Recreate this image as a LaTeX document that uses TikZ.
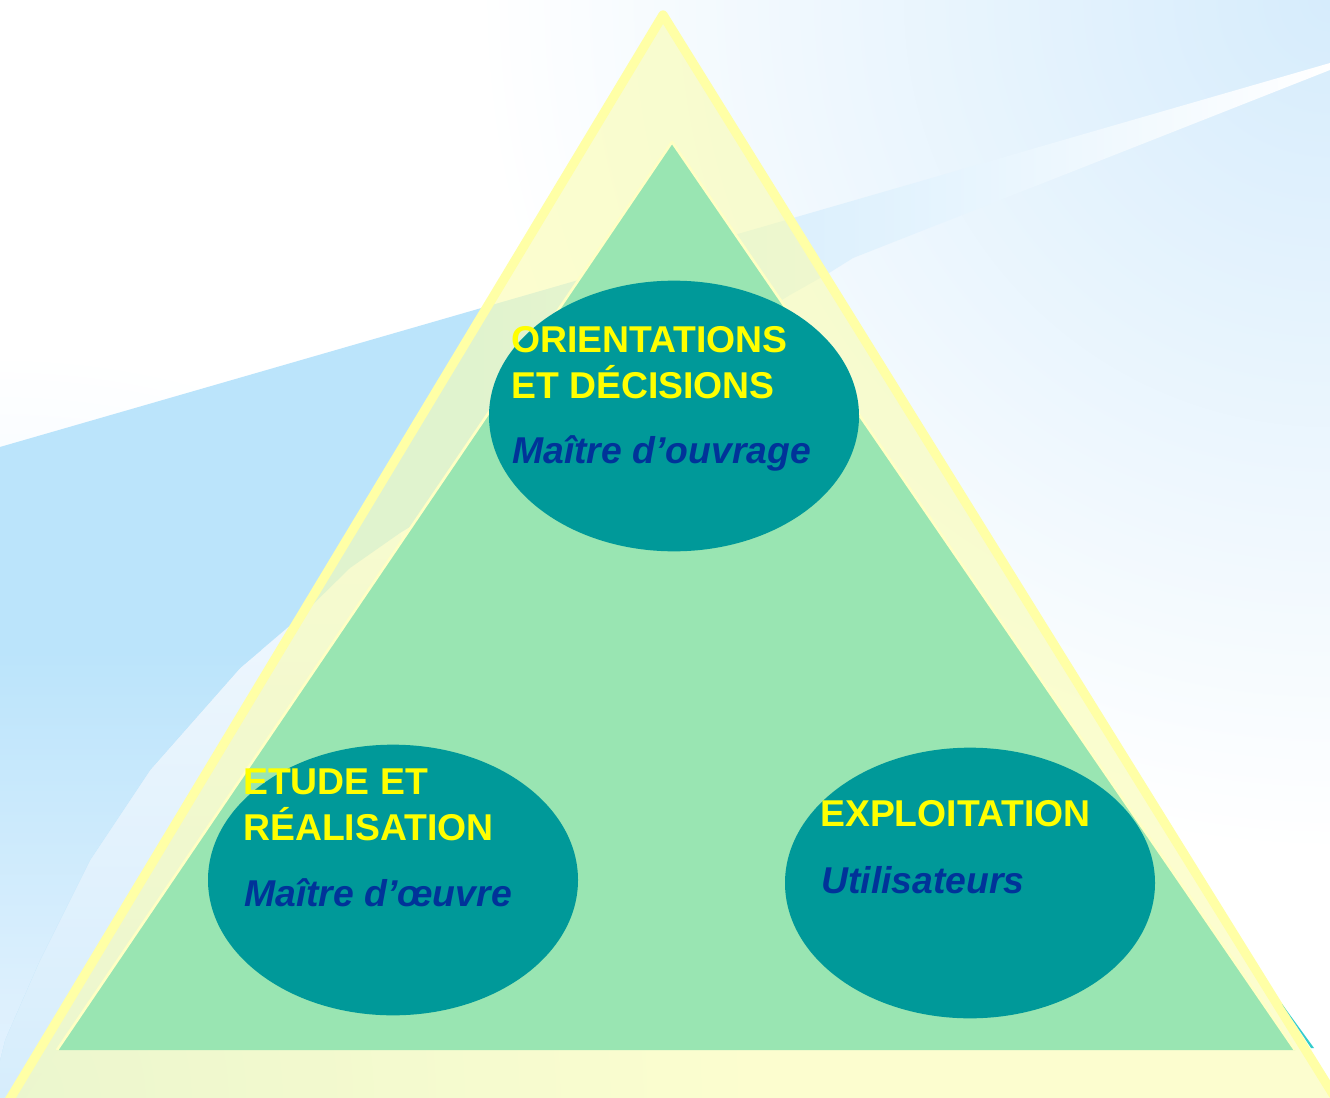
\documentclass[tikz,border=0pt]{standalone}
\usepackage{fontspec}
\setmainfont{Liberation Sans}
\usetikzlibrary{shapes.geometric}
\definecolor{bgtr}{HTML}{D6ECFC}
\definecolor{bgbl}{HTML}{D6EDFC}
\definecolor{bandblue}{HTML}{BBE4FB}
\definecolor{bandmid}{HTML}{DAEFFD}
\definecolor{bandlow}{HTML}{E6F3FE}
\definecolor{streaktop}{HTML}{F2F8FE}
\definecolor{streakbot}{HTML}{D6EDFC}
\definecolor{yedge}{HTML}{FFFFA6}
\definecolor{yfill}{HTML}{FAFDB0}
\definecolor{gtri}{HTML}{99E5B2}
\definecolor{gedge}{HTML}{FFFFC4}
\definecolor{ellteal}{HTML}{009999}
\definecolor{ttlyellow}{HTML}{FFFF00}
\definecolor{ttlblue}{HTML}{003399}
\definecolor{sliver}{HTML}{33CCCC}
\pgfdeclarehorizontalshading{bandsh}{100bp}{color(0bp)=(bandblue); color(43bp)=(bandblue); color(54bp)=(bandmid); color(75bp)=(white); color(100bp)=(white)}
\begin{document}
\begin{tikzpicture}[x=0.75pt,y=-0.75pt,
  ell/.style={ellipse, fill=ellteal, inner sep=0pt, minimum width=277.5pt, minimum height=203pt},
  ttl/.style={anchor=base west, inner sep=0pt, text=ttlyellow, font=\fontsize{28}{33}\selectfont\bfseries},
  role/.style={anchor=base west, inner sep=0pt, text=ttlblue, font=\fontsize{28}{33}\selectfont\bfseries\itshape}]
\useasboundingbox (0,0) rectangle (1330,1098);
\begin{scope}
\clip (0,0) rectangle (1330,1098);
% background gradient
\fill[white] (0,0) rectangle (1330,1098);
\shade[inner color=bgtr, outer color=white] (1330,0) circle (640pt);
\shade[inner color=bgbl, outer color=white] (0,1098) circle (560pt);
% light streak below the band, left of the pyramid
\shade[top color=streaktop, bottom color=streakbot]
  (400,533) -- (350,568) -- (300,617) -- (240,668) -- (150,770) -- (90,860) -- (40,960) -- (5,1040) -- (0,1060)
  -- (0,1098) -- (25,1098) -- (402,540) -- cycle;
% blue band
\begin{scope}
\clip (0,447) -- (1330,63) -- (1330,70) -- (853,258) -- (829,273) -- (790,295) -- (400,533) -- (350,568) -- (300,617)
  -- (240,668) -- (150,770) -- (90,860) -- (40,960) -- (5,1040) -- (0,1060) -- cycle;
\shade[shading=bandsh] (0,0) rectangle (1330,1098);
\shade[top color=bandblue, bottom color=bandlow] (0,650) rectangle (520,1098);
\end{scope}
% outer pyramid
\path[fill=yfill, fill opacity=0.6, draw=yedge, line width=7pt, line join=round]
  (663,15) -- (1405,1210) -- (-57,1210) -- cycle;
\fill[sliver] (1282,1004) -- (1314,1048) -- (1311,1048) -- cycle;
% inner pyramid
\fill[gtri] (672,142) -- (1295,1050) -- (57,1050) -- cycle;
\draw[gedge, line width=2pt, line join=round] (57,1050) -- (672,142) -- (1295,1050);
\end{scope}
% three actors
\node[ell] (moa) at (674,416) {};
\node[ell] (moe) at (393,880) {};
\node[ell] (usr) at (970,883) {};
\node[ttl] (moa1) at (511,352) {ORIENTATIONS};
\node[ttl] (moa2) at (511,398) {ET DÉCISIONS};
\node[role] (moa3) at (512,463) {Maître d’ouvrage};
\node[ttl] (moe1) at (243,794) {ETUDE ET};
\node[ttl] (moe2) at (243,840) {RÉALISATION};
\node[role] (moe3) at (244,906) {Maître d’œuvre};
\node[ttl] (usr1) at (820,826) {EXPLOITATION};
\node[role] (usr2) at (821,893) {Utilisateurs};
\end{tikzpicture}
\end{document}
